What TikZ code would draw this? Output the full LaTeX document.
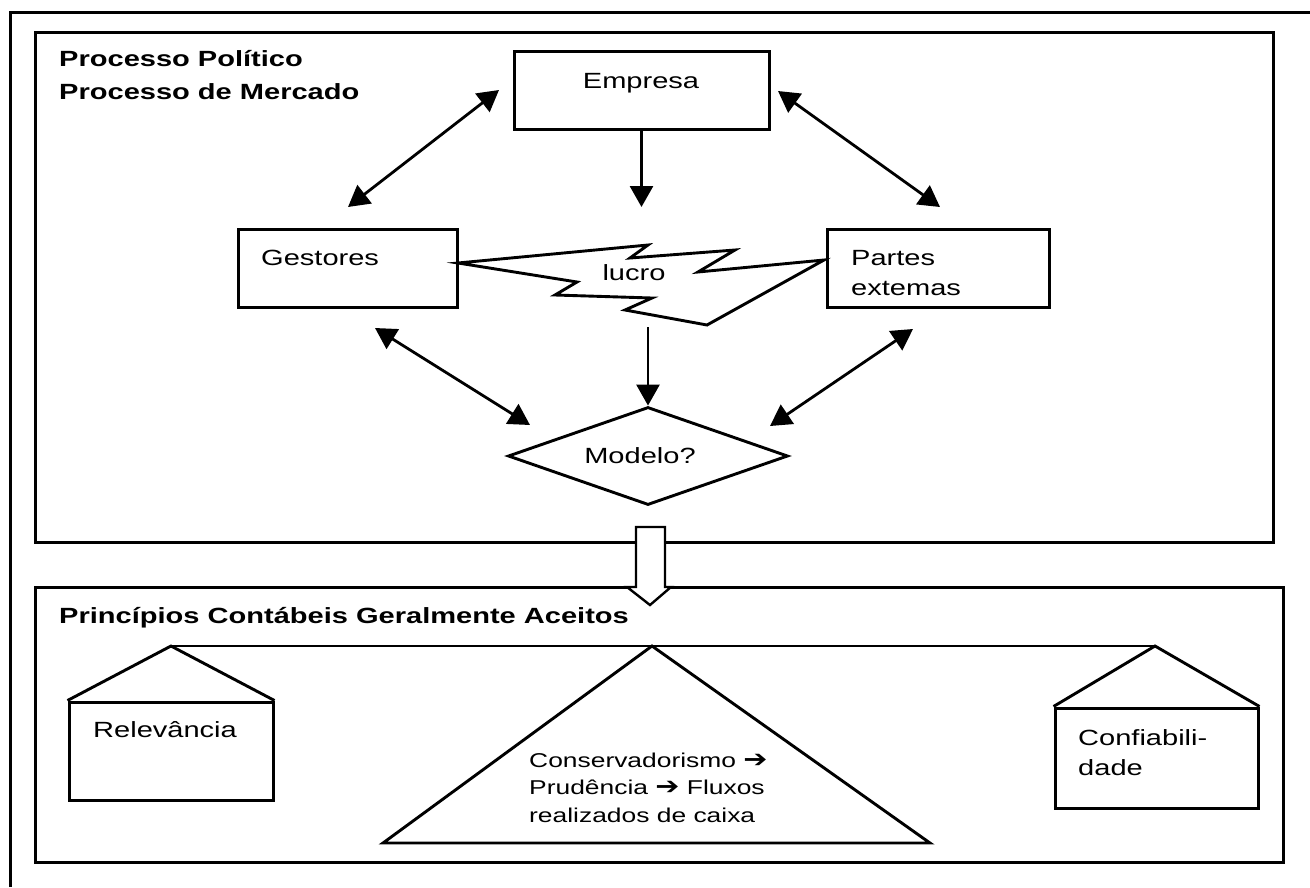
\documentclass[tikz,border=0pt]{standalone}
\usepackage{fontspec}
\setmainfont{Liberation Sans}[FakeStretch=1.32]
\newfontfamily\arrowfont{DejaVu Sans}[FakeStretch=1.2]
\usetikzlibrary{arrows.meta,shapes.geometric}
% several lines whose first baseline is the node baseline
\newcommand{\txtlines}[1]{\begin{tabular}[t]{@{}l@{}}#1\end{tabular}}
\newcommand{\rarr}{{\arrowfont\bfseries\fontsize{24}{27.5}\selectfont ➔}}

\begin{document}
\begin{tikzpicture}[x=1pt,y=-1pt,
  panel/.style={draw, line width=3pt, inner sep=0pt},
  box/.style={draw, line width=3pt, inner sep=0pt},
  shapeline/.style={line width=2.9pt, line join=miter},
  lbl/.style={inner sep=0pt, font=\fontsize{22}{30}\selectfont},
  hdr/.style={inner sep=0pt, font=\fontsize{22}{33}\selectfont\bfseries},
  smalltxt/.style={inner sep=0pt, font=\fontsize{20}{27.5}\selectfont},
  link/.style={line width=2.8pt, -{Triangle[length=21pt,width=23pt]}},
  twoway/.style={line width=2.8pt, {Triangle[length=21pt,width=23pt]}-{Triangle[length=21pt,width=23pt]}}]

\useasboundingbox (0,0) rectangle (1310,887);

% outer frame (only its top and left edges lie on the page)
\draw[line width=3pt] (10,887) -- (10,12) -- (1310,12);

% the two panels
\node[panel, minimum width=1238pt, minimum height=510pt] (toppanel) at (654,287) {};
\node[panel, minimum width=1248pt, minimum height=275pt] (botpanel) at (659,724.5) {};

% ---------- upper panel ----------
\node[hdr, anchor=base west] (hdr) at (59,66) {\txtlines{Processo Político\\Processo de Mercado}};

\node[box, minimum width=255pt, minimum height=78pt] (empresa) at (641.5,90) {};
\node[box, minimum width=219pt, minimum height=78pt] (gestores) at (347.5,268) {};
\node[box, minimum width=222pt, minimum height=78pt] (partes) at (938,268) {};
\node[diamond, draw, line width=2.9pt, inner sep=0pt, minimum width=280pt, minimum height=98pt] (modelo) at (648,456) {};

\node[lbl, anchor=base] (empresaTxt) at (641,88) {Empresa};
\node[lbl, anchor=base west] (gestoresTxt) at (261,265) {Gestores};
\node[lbl, anchor=base west] (partesTxt) at (851,265) {\txtlines{Partes\\extemas}};
\node[lbl, anchor=base] (modeloTxt) at (640,463) {Modelo?};

% lightning bolt between the two side boxes
\draw[shapeline] (458,263) -- (648,245) -- (630,258) -- (735,250) -- (698,272)
  -- (824,260) -- (707,325) -- (625,310) -- (652,298) -- (555,295) -- (577,282) -- cycle;
\node[lbl, anchor=base] (lucroTxt) at (634,280) {lucro};

% arrow end points
\coordinate (geA) at (348,207);
\coordinate (geB) at (499,90);
\coordinate (epA) at (778,91);
\coordinate (epB) at (940,207);
\coordinate (gmA) at (375,328);
\coordinate (gmB) at (530,425);
\coordinate (pmA) at (913,329);
\coordinate (pmB) at (770,426);
\coordinate (empDown) at (641.5,207);
\coordinate (lucroBot) at (648,327);

\draw[twoway] (geA) -- (geB);
\draw[twoway] (epA) -- (epB);
\draw[twoway] (gmA) -- (gmB);
\draw[twoway] (pmA) -- (pmB);
\draw[link] (empresa.south) -- (empDown);
\draw[link] (lucroBot) -- (modelo.north);

% hollow block arrow from the upper panel into the lower one
\draw[line width=2.4pt, line join=miter, fill=white]
  (636,527) -- (665,527) -- (665,587) -- (671,587) -- (650,605) -- (627,587) -- (636,587) -- cycle;

% ---------- lower panel ----------
\node[hdr, anchor=base west] (pcga) at (59,623) {Princípios Contábeis Geralmente Aceitos};

\node[box, minimum width=204pt, minimum height=98pt] (relev) at (171,751) {};
\node[box, minimum width=203pt, minimum height=100pt] (confi) at (1156.5,758) {};
\coordinate (relApex) at (171,646);
\coordinate (confApex) at (1155,646);
\coordinate (fulApex) at (652,646);

% balance beam, roofs and fulcrum
\draw[shapeline] (relApex) -- (confApex);
\draw[shapeline] (relev.north west) -- (relApex) -- (relev.north east);
\draw[shapeline] (confi.north west) -- (confApex) -- (confi.north east);
\draw[shapeline] (fulApex) -- (930,843) -- (383,843) -- cycle;

\node[lbl, anchor=base west] (relTxt) at (93,737) {Relevância};
\node[lbl, anchor=base west] (confTxt) at (1078,745) {\txtlines{Confiabili-\\dade}};
\node[smalltxt, anchor=base west] (fulcrumTxt) at (529,767)
  {\txtlines{Conservadorismo \rarr\\Prudência \rarr{} Fluxos\\realizados de caixa}};

\end{tikzpicture}
\end{document}
